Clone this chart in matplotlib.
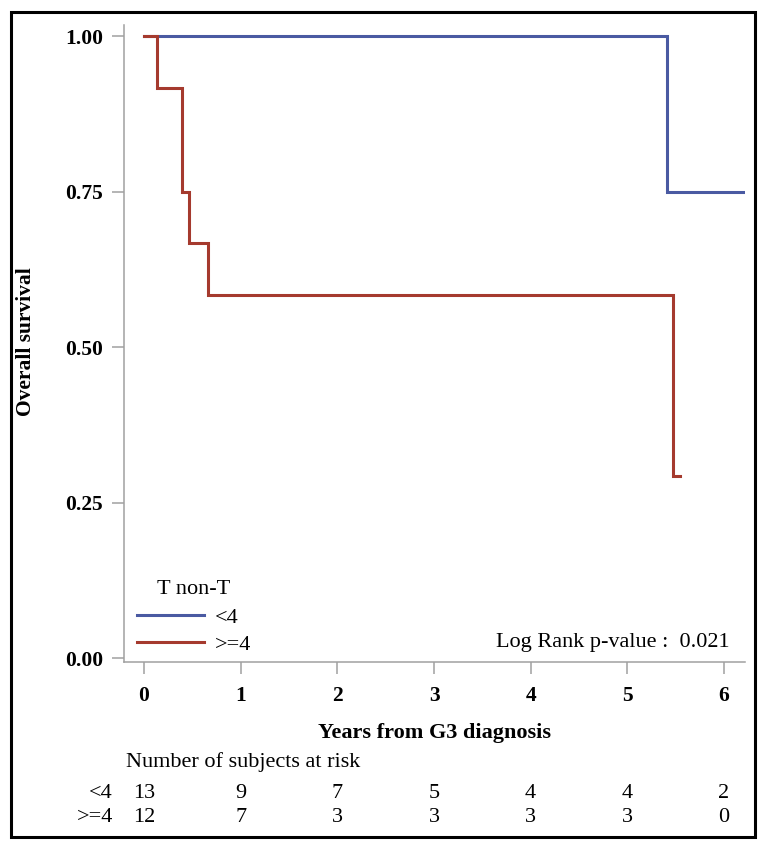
import numpy as np
import matplotlib
matplotlib.use("Agg")
import matplotlib.pyplot as plt
from matplotlib.patches import Rectangle
from matplotlib.transforms import blended_transform_factory


# Kaplan-Meier steps
t_lt4 = [0, 5.41, 6.22]
s_lt4 = [1.0, 0.75, 0.75]

t_ge4 = [0, 0.13, 0.39, 0.465, 0.665, 5.47, 5.54]
s_ge4 = [1.0, 0.917, 0.75, 0.667, 0.583, 0.292, 0.292]

group_labels = ["<4", ">=4"]
group_colors = ["#4a5aa2", "#a53a2e"]

# Number at risk table
risk_times = [0, 1, 2, 3, 4, 5, 6]
risk_lt4 = [13, 9, 7, 5, 4, 4, 2]
risk_ge4 = [12, 7, 3, 3, 3, 3, 0]

p_value = "0.021"

serif = ["Liberation Serif", "DejaVu Serif"]
plt.rcParams["font.family"] = serif

W, H = 766, 848
fig = plt.figure(figsize=(W / 100, H / 100), dpi=100)
ax = fig.add_axes([124 / W, 1 - 662 / H, (745 - 124) / W, (662 - 25) / H])

# Survival curves
ax.step(t_lt4, s_lt4, where="post", color=group_colors[0], lw=2.2,
        label=group_labels[0], solid_joinstyle="miter")
ax.step(t_ge4, s_ge4, where="post", color=group_colors[1], lw=2.2,
        label=group_labels[1], solid_joinstyle="miter")

ax.set_xlim(-0.207, 6.217)
ax.set_ylim(-0.0064, 1.0177)
ax.set_xticks(risk_times)
ax.set_yticks([0, 0.25, 0.5, 0.75, 1.0])
ax.set_yticklabels(["0.00", "0.25", "0.50", "0.75", "1.00"])

for side in ["top", "right"]:
    ax.spines[side].set_visible(False)
for side in ["left", "bottom"]:
    ax.spines[side].set_color("#a0a0a0")
    ax.spines[side].set_linewidth(1.1)

ax.tick_params(axis="both", direction="out", length=8.6, width=1.1,
               color="#a0a0a0", labelsize=15.5)
ax.tick_params(axis="y", pad=6.5)
ax.tick_params(axis="x", pad=9)
for lab in ax.get_xticklabels() + ax.get_yticklabels():
    lab.set_fontweight("bold")

# Legend
leg = ax.legend(title="T non-T", loc="upper left", frameon=False,
                bbox_to_anchor=(137 / W, 1 - 580 / H),
                bbox_transform=fig.transFigure,
                fontsize=16, title_fontsize=16, handlelength=3.0,
                handletextpad=0.5, labelspacing=0.3, borderpad=0,
                borderaxespad=0)
leg._legend_box.sep = 6

# Log rank p-value
fig.text(730 / W, 1 - 642 / H, "Log Rank p-value :  " + p_value,
         ha="right", va="center", fontsize=16)

# Axis titles
fig.text(26 / W, 1 - 342 / H, "Overall survival", rotation=90,
         ha="center", va="center", fontsize=15.5, fontweight="bold")
fig.text(434.5 / W, 1 - 733 / H, "Years from G3 diagnosis",
         ha="center", va="center", fontsize=16, fontweight="bold")

# Number at risk table
fig.text(126 / W, 1 - 762 / H, "Number of subjects at risk",
         ha="left", va="center", fontsize=16)
trans = blended_transform_factory(ax.transData, fig.transFigure)
for row_y, label, counts in [(793, group_labels[0], risk_lt4),
                             (818, group_labels[1], risk_ge4)]:
    fig.text(113 / W, 1 - row_y / H, label, ha="right", va="center",
             fontsize=16)
    for t, n in zip(risk_times, counts):
        ax.text(t, 1 - row_y / H, str(n), transform=trans, ha="center",
                va="center", fontsize=16, clip_on=False)

# Outer frame
fig.patches.append(Rectangle((10.5 / W, 1 - 836.5 / H), (754.5 - 10.5) / W,
                             (836.5 - 11.5) / H, transform=fig.transFigure,
                             fill=False, edgecolor="black", lw=2.2))

fig.savefig("out.png", dpi=100)
